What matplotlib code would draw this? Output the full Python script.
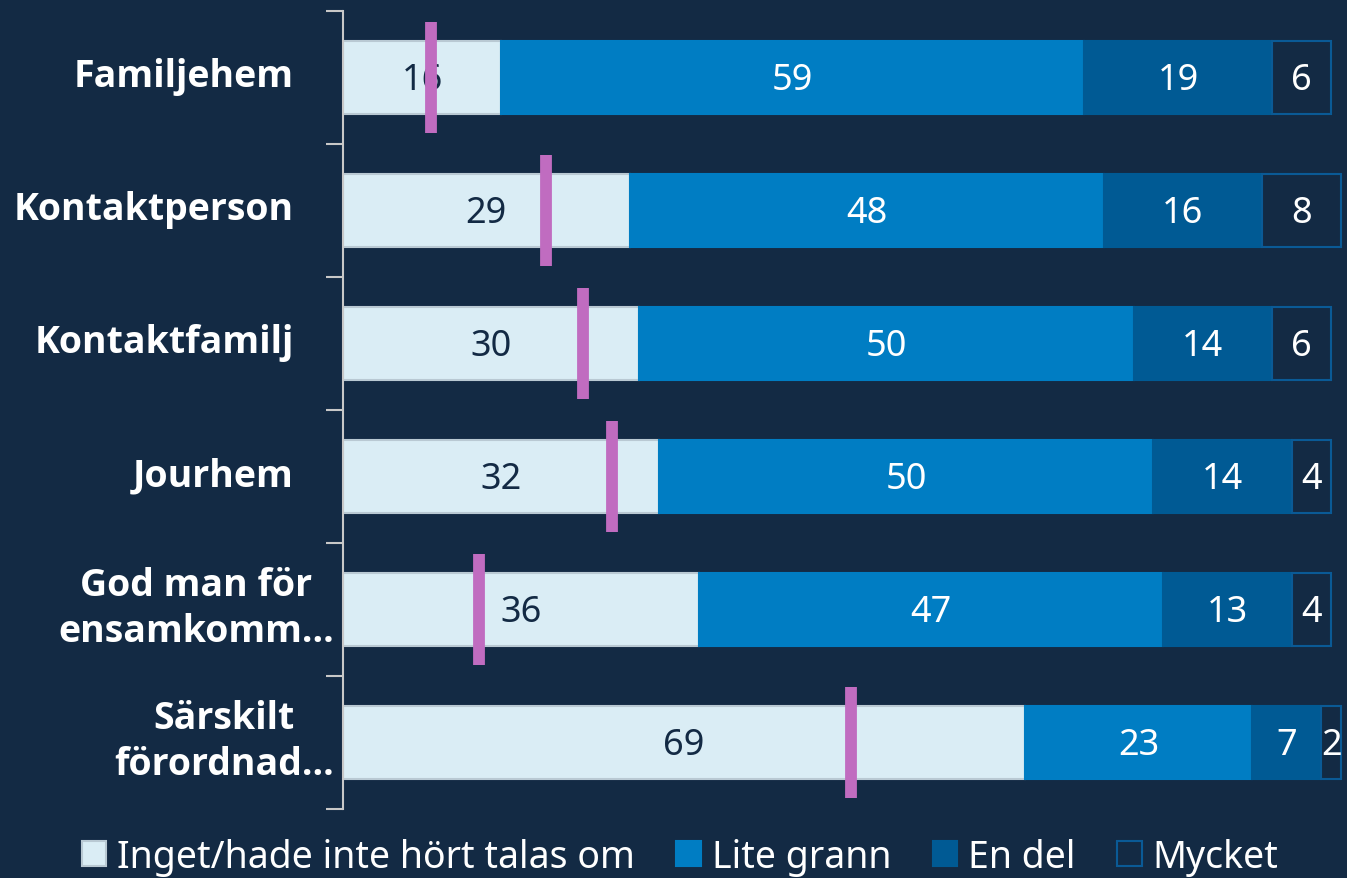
import numpy as np
import matplotlib.pyplot as plt

categories = ["Familjehem", "Kontaktperson", "Kontaktfamilj", "Jourhem",
              "God man för\nensamkomm...", "Särskilt\nförordnad..."]
series_names = ["Inget/hade inte hört talas om", "Lite grann", "En del", "Mycket"]
inget = [16, 29, 30, 32, 36, 69]
lite = [59, 48, 50, 50, 47, 23]
endel = [19, 16, 14, 14, 13, 7]
mycket = [6, 8, 6, 4, 4, 2]
markers = [8.9, 20.5, 24.3, 27.2, 13.8, 51.4]

bg = "#132a44"
fills = ["#daedf5", "#007dc3", "#005a94", bg]
edges = ["#b9c9d3", "#007dc3", "#005a94", "#0a5a96"]
txtcol = [bg, "white", "white", "white"]
purple = "#c06cc0"

plt.rcParams['font.family'] = ['Noto Sans', 'DejaVu Sans']

fig = plt.figure(figsize=(13.47, 8.79), dpi=100, facecolor=bg)
ax = fig.add_axes([343/1347, 1 - 810/879, 1004/1347, 798/879])
ax.set_facecolor(bg)

y = np.arange(len(categories))
left = np.zeros(len(categories))
for k, vals in enumerate([inget, lite, endel, mycket]):
    vals = np.array(vals, dtype=float)
    ax.barh(y, vals, left=left, height=0.55, color=fills[k], edgecolor=edges[k],
            linewidth=1.5, label=series_names[k], zorder=2)
    for i, v in enumerate(vals):
        ax.text(left[i] + v / 2, y[i] + 0.02, f"{int(v)}", ha="center", va="center",
                fontsize=26, color=txtcol[k], zorder=3)
    left += vals

ax.vlines(markers, y - 0.42, y + 0.42, color=purple, linewidth=8.5, zorder=4)

ax.set_xlim(0, 101.6)
ax.set_ylim(len(categories) - 0.5, -0.5)
ax.set_xticks([])
ax.set_yticks(np.arange(-0.5, len(categories), 1.0))
ax.set_yticklabels([])
ax.tick_params(axis="y", length=12, width=1.5, color="#c8c8c8", direction="out")
for s in ["top", "right", "bottom"]:
    ax.spines[s].set_visible(False)
ax.spines["left"].set_color("#c8c8c8")
ax.spines["left"].set_linewidth(1.5)

for i, c in enumerate(categories):
    xpos = -0.9 if "\n" in c else -5.0
    ax.text(xpos, y[i] - 0.01, c, ha="right", va="center", multialignment="center",
            fontsize=27, fontweight="bold", color="white", linespacing=1.28,
            family=["Open Sans", "Noto Sans", "DejaVu Sans"],
            transform=ax.transData, clip_on=False)

leg = fig.legend(loc="center", bbox_to_anchor=(0.505, 1 - 858/879), ncol=4,
                 frameon=False, fontsize=27, handlelength=0.65, handleheight=0.65,
                 handletextpad=0.3, columnspacing=1.1, borderaxespad=0)
for t in leg.get_texts():
    t.set_color("white")

fig.savefig("out.png", dpi=100, facecolor=bg)
